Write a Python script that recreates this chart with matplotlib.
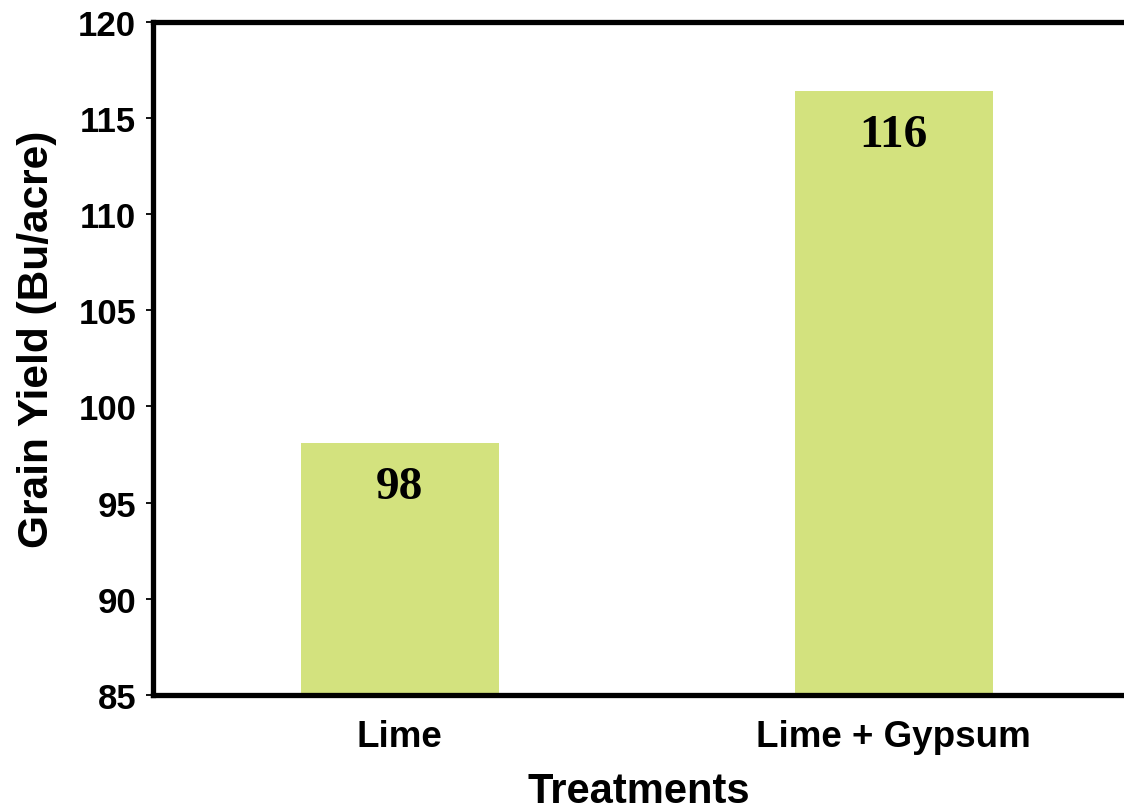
import matplotlib.pyplot as plt

treatments = ["Lime", "Lime + Gypsum"]
grain_yield = [98.1, 116.4]
y_ticks = [85, 90, 95, 100, 105, 110, 115, 120]

BAR_COLOR = "#d3e27e"

fig = plt.figure(figsize=(11.24, 8.12), dpi=100)
# axes runs past the right edge of the figure, so no right spine shows
ax = fig.add_axes([0.136, 0.1429, 0.879, 0.829])

x = range(len(treatments))
ax.bar(x, grain_yield, width=0.4, color=BAR_COLOR, zorder=1)

for xi, v in zip(x, grain_yield):
    ax.annotate(
        f"{v:.0f}",
        xy=(xi, v),
        xytext=(0, -32),
        textcoords="offset points",
        ha="center",
        va="center",
        fontsize=34,
        fontweight="bold",
        family="Liberation Serif",
    )

ax.set_xlim(-0.5, 1.5)
ax.set_ylim(85, 120)
ax.set_yticks(y_ticks)
ax.set_xticks(list(x))
ax.set_xticklabels(treatments)

for side in ["left", "bottom", "top", "right"]:
    ax.spines[side].set_linewidth(3.8)
    ax.spines[side].set_color("black")

ax.tick_params(axis="x", length=0, pad=17)
ax.tick_params(axis="y", length=5, width=1.3, pad=7, direction="out")

for lab in ax.get_xticklabels():
    lab.set_fontfamily("Liberation Sans")
    lab.set_fontweight("bold")
    lab.set_fontsize(26.5)
for lab in ax.get_yticklabels():
    lab.set_fontfamily("Liberation Sans")
    lab.set_fontweight("bold")
    lab.set_fontsize(25)

ax.set_xlabel("Treatments", fontsize=30, fontweight="bold",
              family="Liberation Sans", va="center")
ax.set_ylabel("Grain Yield (Bu/acre)", fontsize=30.5, fontweight="bold",
              family="Liberation Sans", va="center")
ax.xaxis.set_label_coords(0.492, -0.1425)
ax.yaxis.set_label_coords(-0.117, 0.53)

fig.savefig("out.png", dpi=100)
